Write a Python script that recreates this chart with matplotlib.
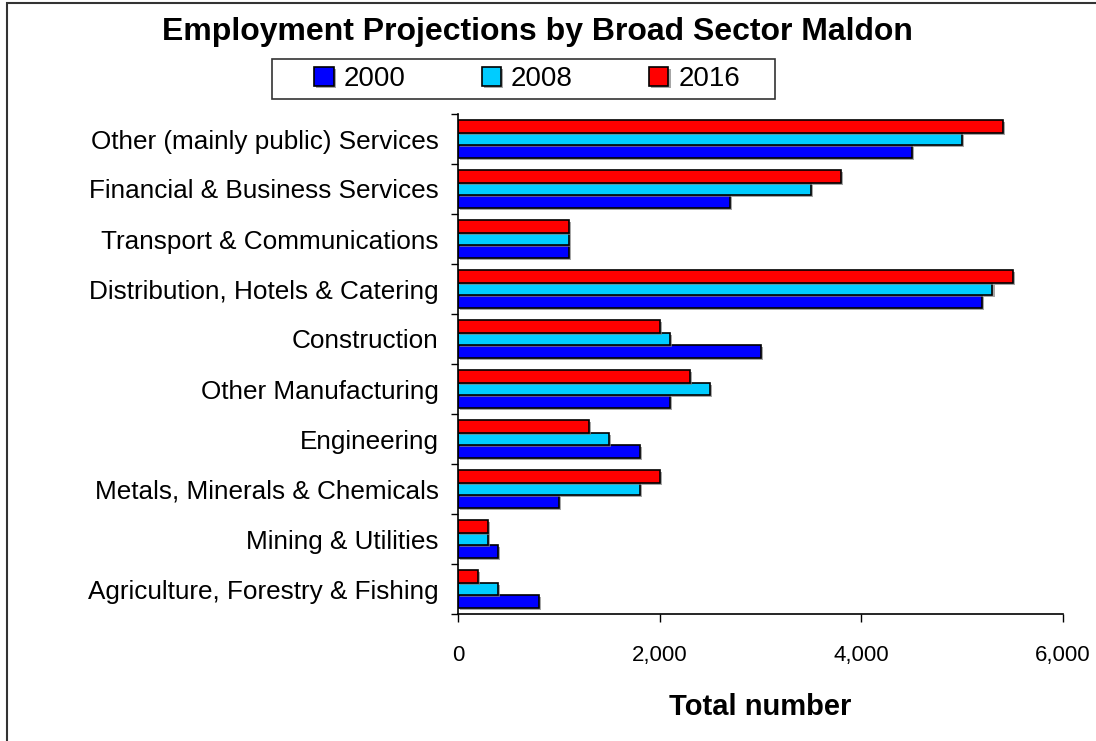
import matplotlib
matplotlib.use("Agg")
import matplotlib.pyplot as plt
import matplotlib.patheffects as pe
from matplotlib.patches import Rectangle
import numpy as np

plt.rcParams['font.family'] = ['Liberation Sans', 'DejaVu Sans']

# sectors, bottom to top
sectors = ["Agriculture, Forestry & Fishing", "Mining & Utilities",
           "Metals, Minerals & Chemicals", "Engineering", "Other Manufacturing",
           "Construction", "Distribution, Hotels & Catering",
           "Transport & Communications", "Financial & Business Services",
           "Other (mainly public) Services"]
years = ["2000", "2008", "2016"]
emp_2000 = [800, 400, 1000, 1800, 2100, 3000, 5200, 1100, 2700, 4500]
emp_2008 = [400, 300, 1800, 1500, 2500, 2100, 5300, 1100, 3500, 5000]
emp_2016 = [200, 300, 2000, 1300, 2300, 2000, 5500, 1100, 3800, 5400]
colours = ["#0000FF", "#00CCFF", "#FF0000"]

W, H = 1096, 741
fig = plt.figure(figsize=(W / 100, H / 100), dpi=100)
ax = fig.add_axes([458 / W, 1 - 614 / H, 605 / W, 500 / H])

# frame around the whole chart
fig.patches.append(Rectangle((7 / W, -0.1), 1.2, 1 - 3 / H + 0.1,
                             transform=fig.transFigure, fill=False,
                             edgecolor="#333333", linewidth=1.5))

y = np.arange(len(sectors))
h = 0.255
shadow = [pe.SimplePatchShadow(offset=(1.5, -1.5), shadow_rgbFace="#808080", alpha=0.7),
          pe.Normal()]
for vals, off, col, lab in zip([emp_2000, emp_2008, emp_2016], [-h, 0, h], colours, years):
    bars = ax.barh(y + off, vals, height=h, color=col, edgecolor="black",
                   linewidth=1.2, label=lab)
    for b in bars:
        b.set_path_effects(shadow)

ax.set_xlim(0, 6000)
ax.set_ylim(-0.5, 9.5)
ax.set_xticks([0, 2000, 4000, 6000])
ax.set_xticklabels(["0", "2,000", "4,000", "6,000"])
ax.tick_params(axis="x", direction="out", length=6, width=1, pad=16, labelsize=16)

# tick marks between categories, labels at centres
ax.set_yticks(np.arange(-0.5, 10, 1))
ax.set_yticklabels([])
ax.set_yticks(y, minor=True)
ax.set_yticklabels(sectors, minor=True)
ax.tick_params(axis="y", which="major", direction="out", length=5, width=1)
ax.tick_params(axis="y", which="minor", length=0, pad=14, labelsize=18.8)

for s in ["top", "right"]:
    ax.spines[s].set_visible(False)
for s in ["left", "bottom"]:
    ax.spines[s].set_linewidth(1.2)

ax.set_xlabel("Total number", fontsize=21, fontweight="bold", labelpad=20)

fig.text(537 / W, 1 - 32 / H, "Employment Projections by Broad Sector Maldon",
         ha="center", va="center", fontsize=23, fontweight="bold")

# legend box drawn separately so its padding can be wider than tall
fig.patches.append(Rectangle((272 / W, 1 - 99 / H), 503 / W, 40 / H,
                             transform=fig.transFigure, fill=False,
                             edgecolor="#333333", linewidth=1.2))
leg = fig.legend(loc="center", bbox_to_anchor=(527 / W, 1 - 79 / H), ncol=3,
                 fontsize=20, frameon=False, handlelength=0.7,
                 handleheight=0.7, handletextpad=0.35, columnspacing=2.75,
                 borderpad=0.0)

fig.savefig("out.png", dpi=100)
